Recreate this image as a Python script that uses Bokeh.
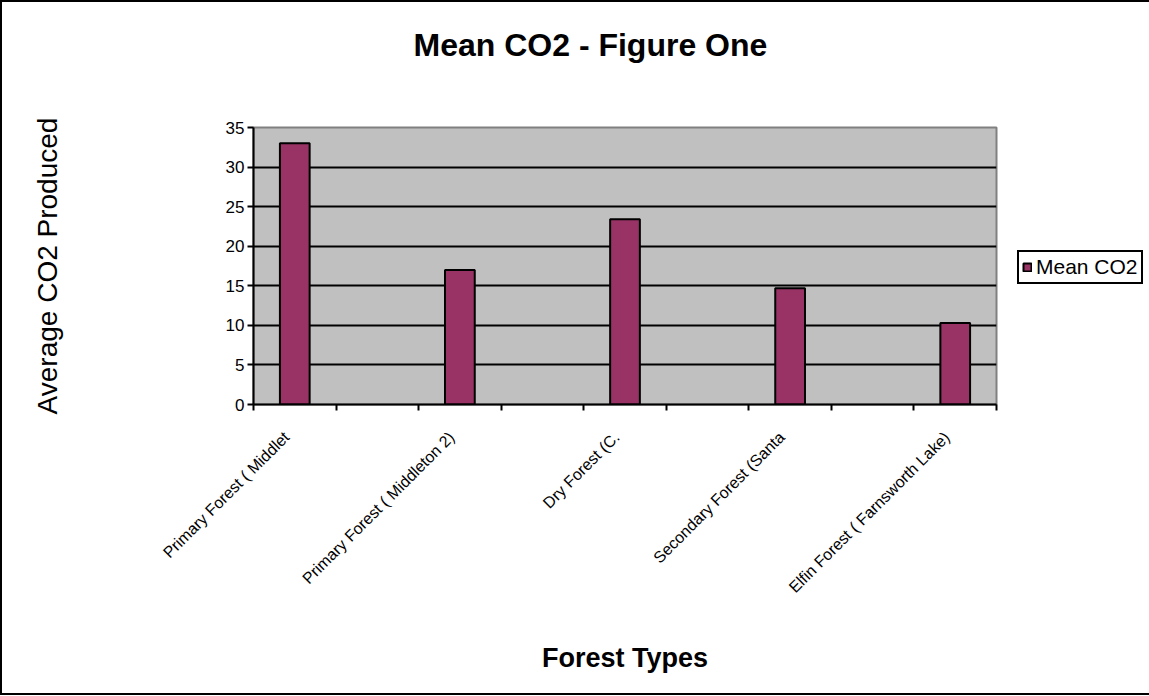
import math
from bokeh.plotting import figure
from bokeh.models import FixedTicker, Range1d, Legend, LegendItem, ColumnDataSource, Title
from bokeh.embed import file_html
from bokeh.resources import INLINE

categories = ["Primary Forest ( Middlet", "Primary Forest ( Middleton 2)", "Dry Forest (C.",
              "Secondary Forest (Santa", "Elfin Forest ( Farnsworth Lake)"]
slots = [0.5, 2.5, 4.5, 6.5, 8.5]
mean_co2 = [33.0, 17.0, 23.4, 14.7, 10.3]
y_ticks = [0, 5, 10, 15, 20, 25, 30, 35]
title_text = "Mean CO2 - Figure One"

src = ColumnDataSource(dict(x=slots, top=mean_co2))

p = figure(frame_width=743, frame_height=277, output_backend="svg", toolbar_location=None,
           x_range=Range1d(0, 9), y_range=Range1d(0, 35),
           min_border_left=251, min_border_right=149, min_border_top=125, min_border_bottom=289)
p.styles = {"border": "2px solid black"}
p.title = Title(text=title_text + "\n\n", align="left", text_font="Liberation Sans",
                text_font_size="32px", text_font_style="bold", standoff=0, offset=160,
                text_color="black", text_line_height=0.89)

p.background_fill_color = "#C0C0C0"
p.border_fill_color = "white"
p.outline_line_color = "#808080"
p.outline_line_width = 2

r = p.vbar(x="x", top="top", width=0.36, source=src, fill_color="#993366",
           line_color="black", line_width=2)

p.xgrid.visible = False
p.ygrid.ticker = FixedTicker(ticks=y_ticks)
p.ygrid.grid_line_color = "black"
p.ygrid.grid_line_width = 2

label_pos = [s - 0.1 for s in slots]
xa = p.xaxis[0]
xa.ticker = FixedTicker(ticks=label_pos, minor_ticks=list(range(10)))
xa.major_label_overrides = {s: c for s, c in zip(label_pos, categories)}
xa.major_tick_line_color = None
xa.minor_tick_line_color = "black"
xa.minor_tick_line_width = 2
xa.minor_tick_out = 6
xa.minor_tick_in = 0
xa.major_label_orientation = math.pi / 4
xa.major_label_text_font = "Liberation Sans"
xa.major_label_text_font_size = "16px"
xa.major_label_text_color = "black"
xa.major_label_standoff = 24
xa.axis_line_color = "black"
xa.axis_line_width = 2
xa.axis_label = "Forest Types"
xa.axis_label_text_font = "Liberation Sans"
xa.axis_label_text_font_size = "27px"
xa.axis_label_text_font_style = "bold"
xa.axis_label_text_color = "black"
xa.axis_label_standoff = 38

ya = p.yaxis[0]
ya.ticker = FixedTicker(ticks=y_ticks)
ya.minor_tick_line_color = None
ya.major_tick_out = 6
ya.major_tick_in = 0
ya.major_tick_line_width = 2
ya.major_tick_line_color = "black"
ya.axis_line_color = "black"
ya.axis_line_width = 2
ya.major_label_text_font = "Liberation Sans"
ya.major_label_text_font_size = "17px"
ya.major_label_text_color = "black"
ya.major_label_standoff = 3
ya.axis_label = "Average CO2 Produced"
ya.axis_label_text_font = "Liberation Sans"
ya.axis_label_text_font_size = "28px"
ya.axis_label_text_font_style = "normal"
ya.axis_label_text_color = "black"
ya.axis_label_standoff = 160

legend = Legend(items=[LegendItem(label="Mean CO2", renderers=[r])], location=(21, 120))
legend.label_text_font = "Liberation Sans"
legend.label_text_font_size = "21px"
legend.label_text_color = "black"
legend.border_line_color = "black"
legend.border_line_width = 2
legend.border_line_alpha = 1
legend.background_fill_alpha = 1
legend.glyph_width = 10
legend.glyph_height = 10
legend.label_standoff = 4
legend.padding = 3
legend.spacing = 0
legend.margin = 0
legend.label_height = 22
p.add_layout(legend, "right")

open("out.html", "w").write(file_html(p, INLINE))
